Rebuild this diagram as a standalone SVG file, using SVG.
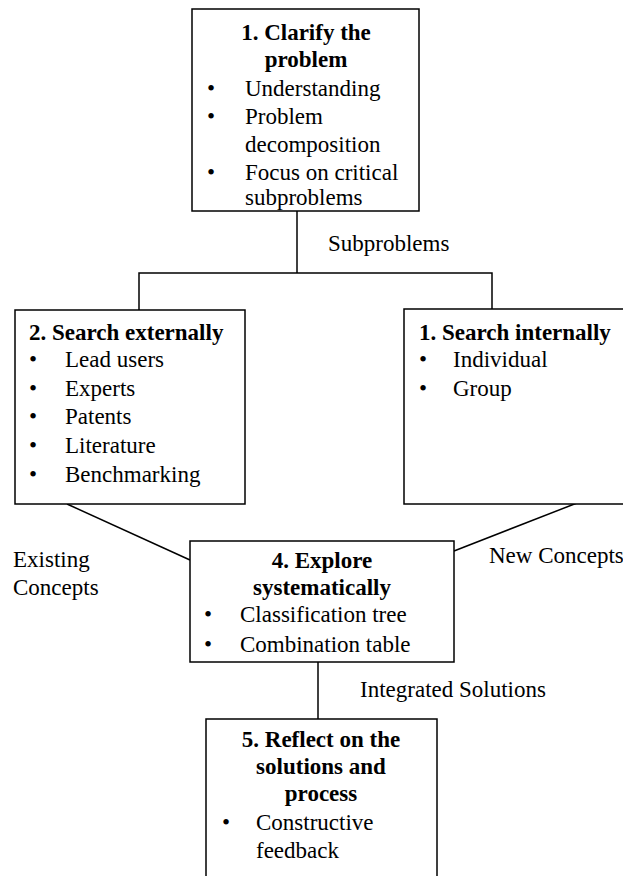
<svg xmlns="http://www.w3.org/2000/svg" width="623" height="876" viewBox="0 0 623 876">
<style>
text{font-family:"Liberation Serif","Times New Roman",serif;font-size:23px;fill:#000}
.t{font-weight:bold;text-anchor:middle}
.tl{font-weight:bold}
rect{fill:#fff;stroke:#000;stroke-width:1.5}
.c line,.c polyline{stroke:#000;stroke-width:1.5;fill:none}
</style>
<rect x="0" y="0" width="623" height="876" style="stroke:none"/>
<g class="c" id="connectors">
<line x1="297" y1="211" x2="297" y2="273"/>
<polyline points="139,310 139,273 492,273 492,310"/>
<line x1="67" y1="504" x2="190" y2="560"/>
<line x1="454" y1="551" x2="577" y2="503"/>
<line x1="318" y1="662" x2="318" y2="719"/>
</g>
<g id="n1">
<rect x="192" y="9" width="227" height="202"/>
<text class="t" x="306" y="40">1. Clarify the</text>
<text class="t" x="306" y="67">problem</text>
<text x="207" y="96">•</text><text x="245" y="96">Understanding</text>
<text x="207" y="124">•</text><text x="245" y="124">Problem</text>
<text x="245" y="152">decomposition</text>
<text x="207" y="180">•</text><text x="245" y="180">Focus on critical</text>
<text x="245" y="205">subproblems</text>
</g>
<g id="n2">
<rect x="15" y="310" width="230" height="194"/>
<text class="tl" x="29" y="340">2. Search externally</text>
<text x="29" y="367">•</text><text x="65" y="367">Lead users</text>
<text x="29" y="396">•</text><text x="65" y="396">Experts</text>
<text x="29" y="424">•</text><text x="65" y="424">Patents</text>
<text x="29" y="453">•</text><text x="65" y="453">Literature</text>
<text x="29" y="482">•</text><text x="65" y="482">Benchmarking</text>
</g>
<g id="n3">
<rect x="404" y="309" width="240" height="195"/>
<text class="tl" x="419" y="340">1. Search internally</text>
<text x="419" y="367">•</text><text x="453" y="367">Individual</text>
<text x="419" y="396">•</text><text x="453" y="396">Group</text>
</g>
<g id="n4">
<rect x="190" y="541" width="264" height="121"/>
<text class="t" x="322" y="568">4. Explore</text>
<text class="t" x="322" y="595">systematically</text>
<text x="204" y="622">•</text><text x="240" y="622">Classification tree</text>
<text x="204" y="652">•</text><text x="240" y="652">Combination table</text>
</g>
<g id="n5">
<rect x="206" y="719" width="231" height="170"/>
<text class="t" x="321" y="747">5. Reflect on the</text>
<text class="t" x="321" y="774">solutions and</text>
<text class="t" x="321" y="801">process</text>
<text x="222" y="830">•</text><text x="256" y="830">Constructive</text>
<text x="256" y="858">feedback</text>
</g>
<g id="labels">
<text x="328" y="251">Subproblems</text>
<text x="13" y="567">Existing</text>
<text x="13" y="595">Concepts</text>
<text x="489" y="563">New Concepts</text>
<text x="360" y="697">Integrated Solutions</text>
</g>
</svg>
